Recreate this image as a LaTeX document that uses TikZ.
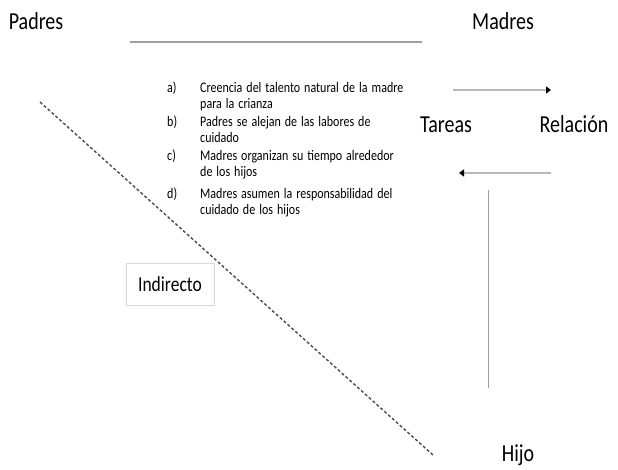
\documentclass[tikz,border=0pt]{standalone}
\usepackage{fontspec}
\setmainfont{Carlito}
\usetikzlibrary{positioning, arrows.meta}
\newcommand{\tallbox}[1]{\scalebox{1}[1.22]{#1}}
\newcommand{\fullline}[1]{\tallbox{\makebox[204pt][s]{#1}}}

\begin{document}
\begin{tikzpicture}[x=1pt,y=-1pt,
  big/.style={font=\fontsize{20}{24}\selectfont, inner sep=0pt, anchor=base},
  lbl/.style={font=\fontsize{12}{16.5}\selectfont, inner sep=0pt, anchor=base west},
  itemtext/.style={lbl, text width=204pt, align=left},
  greyline/.style={draw=gray!75, line width=1.2pt},
  arrowline/.style={draw=gray!55, line width=2pt, -{Triangle[length=5pt,width=7pt,black]}}] % pixel units
 \useasboundingbox (0,0) rectangle (618,469);
 % headings
 \node[big] (padres) at (36,29) {\tallbox{Padres}};
 \node[big] (madres) at (503,29) {\tallbox{Madres}};
 \coordinate (h1) at (130,42);
 \coordinate (h2) at (422,42);
 \draw[greyline] (h1) -- (h2); % line between Padres and Madres
 % list of items
 \node[lbl] (la) at (167,92) {\tallbox{a)}};
 \node[itemtext] (ia) at (200,92) {\fullline{Creencia del talento natural de la madre}\\\tallbox{para la crianza}};
 \node[lbl] (lb) at (167,126) {\tallbox{b)}};
 \node[itemtext] (ib) at (200,126) {\fullline{Padres se alejan de las labores de}\\\tallbox{cuidado}};
 \node[lbl] (lc) at (167,160) {\tallbox{c)}};
 \node[itemtext] (ic) at (200,160) {\fullline{Madres organizan su tiempo alrededor}\\\tallbox{de los hijos}};
 \node[lbl] (ld) at (167,198) {\tallbox{d)}};
 \node[itemtext] (id) at (200,198) {\fullline{Madres asumen la responsabilidad del}\\\tallbox{cuidado de los hijos}};
 % Tareas / Relacion
 \node[big] (tareas) at (446,132) {\tallbox{Tareas}};
 \node[big] (relacion) at (574,132) {\tallbox{Relación}};
 \coordinate (a1) at (453,90);
 \coordinate (a2) at (551,90);
 \coordinate (b1) at (551,173);
 \coordinate (b2) at (459,173);
 \draw[arrowline] (a1) -- (a2);
 \draw[arrowline] (b1) -- (b2);
 % Hijo
 \node[big] (hijo) at (518,461) {\tallbox{Hijo}};
 \coordinate (v1) at (488,190);
 \coordinate (v2) at (488,388);
 \draw[greyline, line width=1pt] (v1) -- (v2);
 % indirect path
 \coordinate (d1) at (40,102);
 \coordinate (d2) at (433,455);
 \draw[black!70, line width=1.4pt, dash pattern=on 3pt off 2.2pt] (d1) -- (d2);
 \node[draw=gray!30, fill=white, minimum width=88pt, minimum height=42pt,
   font=\fontsize{17.5}{20}\selectfont] (indirecto) at (170,284) {\tallbox{Indirecto}};
\end{tikzpicture}
\end{document}
